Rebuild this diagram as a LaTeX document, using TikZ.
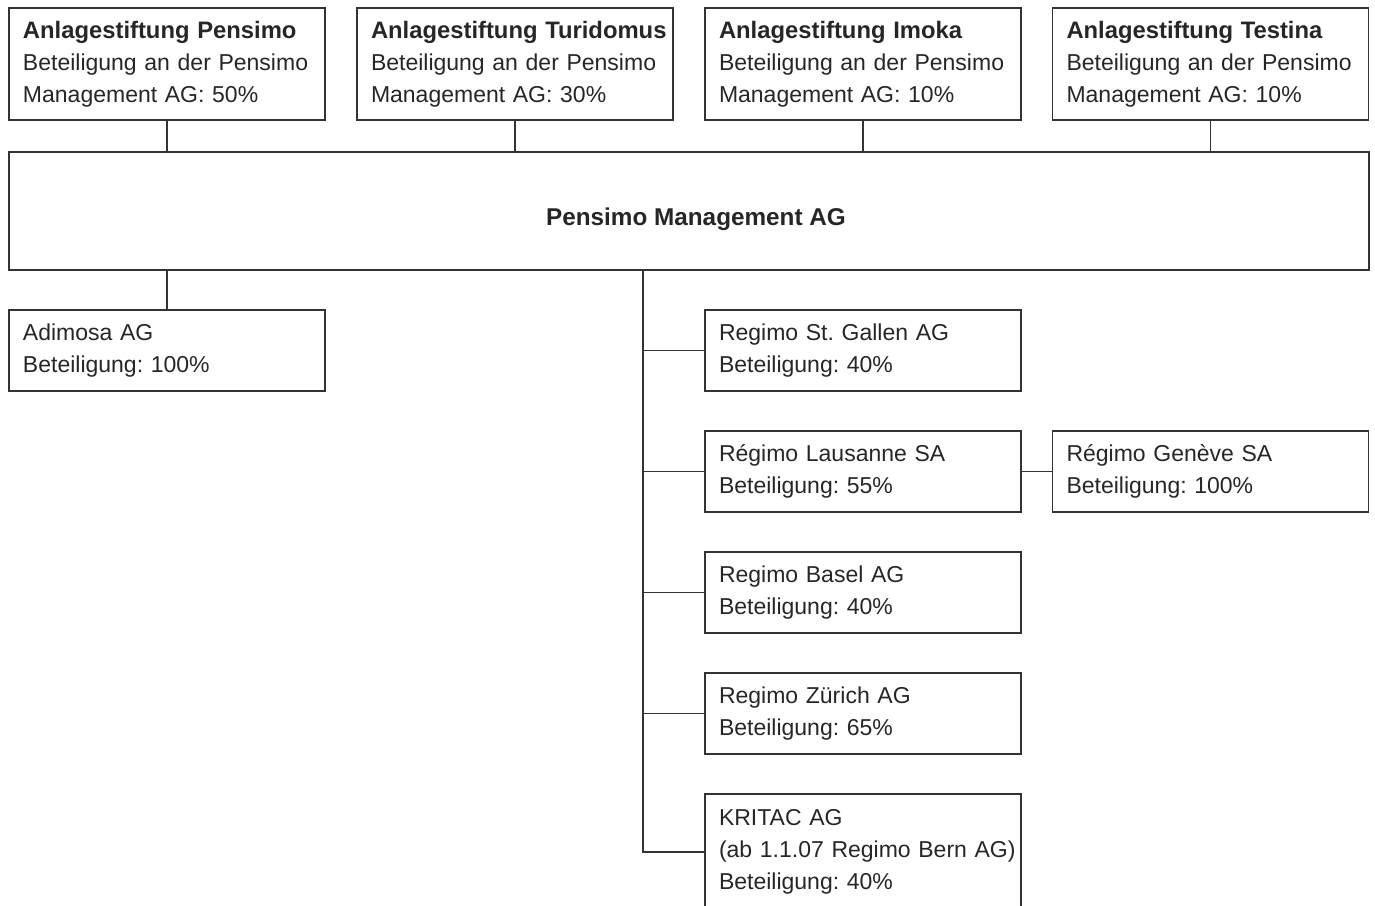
\documentclass[tikz,border=0pt]{standalone}
\usepackage{fontspec}
\setmainfont{Liberation Sans}
\frenchspacing
\definecolor{ink}{HTML}{262626}
\definecolor{rule}{HTML}{333333}
\newcommand{\heading}[1]{\mbox{\fontsize{23.8}{32}\selectfont\bfseries #1}}
\begin{document}
\begin{tikzpicture}[x=1pt,y=-1pt,
  box/.style={draw=rule,line width=1.2pt,text=ink,inner xsep=14pt,inner ysep=0pt,
    text width=288pt,align=left,minimum width=316pt,
    font=\fontsize{23}{32}\selectfont\frenchspacing},
  tall/.style={box,minimum height=112pt},
  short/.style={box,minimum height=81pt},
  link/.style={draw=rule,line width=1.2pt}]
\useasboundingbox (0,0) rectangle (1375,905);
% top row
\node[tall] (p1) at (167,64) {\heading{Anlagestiftung Pensimo}\\\mbox{Beteiligung an der Pensimo}\\\mbox{Management AG: 50\%}};
\node[tall] (p2) at (515,64) {\heading{Anlagestiftung Turidomus}\\\mbox{Beteiligung an der Pensimo}\\\mbox{Management AG: 30\%}};
\node[tall] (p3) at (863,64) {\heading{Anlagestiftung Imoka}\\\mbox{Beteiligung an der Pensimo}\\\mbox{Management AG: 10\%}};
\node[tall] (p4) at (1210.5,64) {\heading{Anlagestiftung Testina}\\\mbox{Beteiligung an der Pensimo}\\\mbox{Management AG: 10\%}};
% main
\node[draw=rule,line width=1.2pt,text=ink,minimum width=1360pt,minimum height=118pt,
  inner sep=0pt,text height=28pt,text depth=0pt,
  font=\fontsize{24.3}{32}\selectfont\bfseries] (main) at (689,211) {\hspace{14pt}Pensimo Management AG};
% children
\node[short] (ad) at (167,350.5) {Adimosa AG\\Beteiligung: 100\%};
\node[short] (r1) at (863,350.5) {Regimo St. Gallen AG\\Beteiligung: 40\%};
\node[short] (r2) at (863,471.5) {Régimo Lausanne SA\\Beteiligung: 55\%};
\node[short] (ge) at (1210.5,471.5) {Régimo Genève SA\\Beteiligung: 100\%};
\node[short] (r3) at (863,592.5) {Regimo Basel AG\\Beteiligung: 40\%};
\node[short] (r4) at (863,713.5) {Regimo Zürich AG\\Beteiligung: 65\%};
\node[box,minimum height=116pt] (kr) at (863,852) {KRITAC AG\\\mbox{(ab 1.1.07 Regimo Bern AG)}\\Beteiligung: 40\%};
\coordinate (trunk) at (643,852);
% connectors
\foreach \n in {p1,p2,p3,p4} \draw[link] (\n.south) -- (\n.south |- main.north);
\draw[link] (ad.north) -- (ad.north |- main.south);
\draw[link] (main.south -| trunk) -- (trunk) -- (kr.west);
\foreach \n in {r1,r2,r3,r4} \draw[link] (trunk |- \n.west) -- (\n.west);
\draw[link] (r2.east) -- (ge.west);
\end{tikzpicture}
\end{document}
